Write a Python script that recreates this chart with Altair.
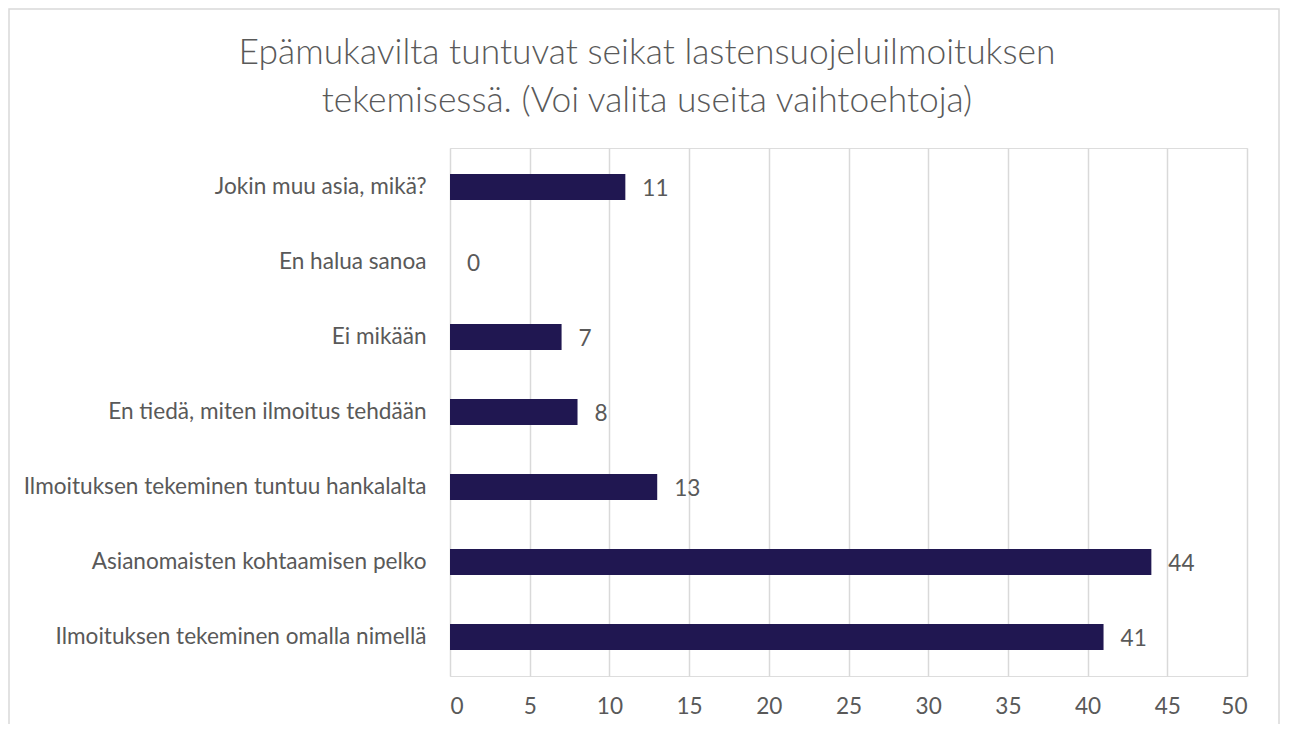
import altair as alt
import pandas as pd

categories = [
    "Jokin muu asia, mikä?",
    "En halua sanoa",
    "Ei mikään",
    "En tiedä, miten ilmoitus tehdään",
    "Ilmoituksen tekeminen tuntuu hankalalta",
    "Asianomaisten kohtaamisen pelko",
    "Ilmoituksen tekeminen omalla nimellä",
]
values = [11, 0, 7, 8, 13, 44, 41]
x_ticks = [0, 5, 10, 15, 20, 25, 30, 35, 40, 45, 50]
title_lines = [
    "Epämukavilta tuntuvat seikat lastensuojeluilmoituksen",
    "tekemisessä. (Voi valita useita vaihtoehtoja)",
]

df = pd.DataFrame({"category": categories, "value": values})

FONT = "Lato"
GRAY = "#595959"
FS = 22.6

y_enc = alt.Y(
    "category:N",
    sort=categories,
    title=None,
    scale=alt.Scale(paddingInner=0.653, paddingOuter=0.347),
    axis=alt.Axis(
        ticks=False, domain=False, labelFontSize=FS, labelColor=GRAY,
        labelFont=FONT, labelPadding=24, labelLimit=500,
    ),
)
x_enc = alt.X(
    "value:Q",
    title=None,
    scale=alt.Scale(domain=[0, 50], nice=False),
    axis=alt.Axis(
        values=x_ticks, ticks=False, domain=False, grid=True,
        gridColor="#d9d9d9", gridWidth=1.5, labelFontSize=FS, labelColor=GRAY,
        labelFont=FONT, labelPadding=19,
    ),
)

bars = alt.Chart(df).mark_bar(color="#201751").encode(x=x_enc, y=y_enc)
labels = alt.Chart(df).mark_text(
    align="left", baseline="middle", dx=17, dy=2, fontSize=FS, color=GRAY, font=FONT
).encode(x="value:Q", y=alt.Y("category:N", sort=categories), text="value:Q")

border = alt.Chart(pd.DataFrame({"b": [0]})).mark_rect(
    fill=None, stroke="#d9d9d9", strokeWidth=1.5
).encode(
    x=alt.value(-441), x2=alt.value(829), y=alt.value(-139), y2=alt.value(700)
)

title_df = pd.DataFrame({"line": title_lines, "row": [0, 1]})
title_layers = []
for i, ypos in enumerate([-95, -47]):
    title_layers.append(
        alt.Chart(title_df)
        .transform_filter(alt.datum.row == i)
        .mark_text(align="center", baseline="middle", fontSize=35.4, font=FONT,
                   fontWeight=300, color=GRAY)
        .encode(x=alt.value(197), y=alt.value(ypos), text="line:N")
    )

chart = alt.layer(bars, labels, border, *title_layers).properties(
    width=797,
    height=528,
    padding={"left": 442, "top": 140, "right": 34, "bottom": 48},
    autosize=alt.AutoSizeParams(type="none"),
).configure_view(stroke=None).configure(background="white")

chart.save("out.html", embed_options={"renderer": "svg", "actions": False})
